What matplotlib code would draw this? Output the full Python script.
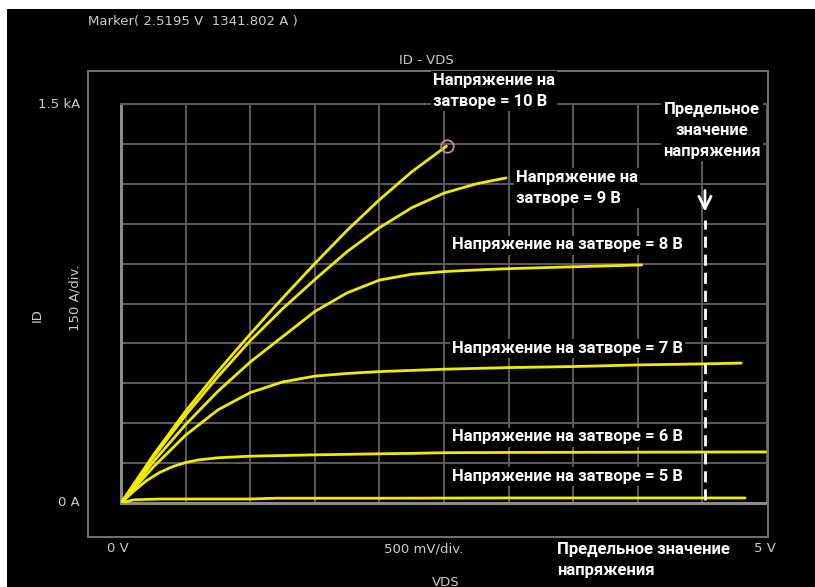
import matplotlib.pyplot as plt
from matplotlib.patches import Rectangle
from matplotlib.ticker import MultipleLocator

# I_D - V_DS output characteristics, one curve per gate voltage
vds_10 = [0, 0.25, 0.5, 0.75, 1.0, 1.25, 1.5, 1.75, 2.0, 2.25, 2.5195]
id_10 = [0, 180, 345, 495, 635, 770, 900, 1025, 1140, 1245, 1341.802]

vds_9 = [0, 0.25, 0.5, 0.75, 1.0, 1.25, 1.5, 1.75, 2.0, 2.25, 2.5, 2.75, 2.98]
id_9 = [0, 172, 330, 475, 610, 730, 840, 945, 1035, 1110, 1165, 1200, 1222]

vds_8 = [0, 0.25, 0.5, 0.75, 1.0, 1.25, 1.5, 1.75, 2.0, 2.25, 2.5, 2.75, 3.0, 3.5, 4.03]
id_8 = [0, 155, 295, 420, 530, 625, 720, 790, 838, 860, 870, 876, 881, 888, 895]

vds_7 = [0, 0.25, 0.5, 0.75, 1.0, 1.25, 1.5, 1.75, 2.0, 2.5, 3.0, 3.5, 4.0, 4.5, 4.8]
id_7 = [0, 135, 255, 350, 415, 455, 477, 487, 494, 503, 509, 513, 519, 523, 526]

vds_6 = [0, 0.1, 0.2, 0.3, 0.4, 0.5, 0.6, 0.75, 1.0, 1.5, 2.0, 2.3, 2.5, 3.0, 4.0, 4.99]
id_6 = [0, 45, 85, 115, 137, 152, 162, 170, 176, 181, 185, 187, 189, 190, 191, 192]

vds_5 = [0, 0.1, 0.3, 1.0, 1.2, 2.0, 3.0, 4.0, 4.83]
id_5 = [0, 12, 15, 15, 18, 18, 19, 19, 19]

curves = [(vds_10, id_10), (vds_9, id_9), (vds_8, id_8),
          (vds_7, id_7), (vds_6, id_6), (vds_5, id_5)]

marker_v, marker_i = 2.5195, 1341.802
v_limit = 4.52

W, H = 815, 587


def px(x, y):
    return x / W, 1 - y / H


fig = plt.figure(figsize=(W / 100, H / 100), dpi=100, facecolor='white')
fig.add_artist(Rectangle(px(7, 587), (W - 7) / W, (587 - 9) / H,
                         transform=fig.transFigure, facecolor='black',
                         edgecolor='none', zorder=0))
# outer instrument frame
fig.add_artist(Rectangle(px(88, 537), (768 - 88) / W, (537 - 71) / H,
                         transform=fig.transFigure, fill=False,
                         edgecolor='#6e6e6e', lw=1.5, zorder=1))

ax = fig.add_axes([121 / W, 1 - 503 / H, (767 - 121) / W, (503 - 104) / H])
ax.set_facecolor('black')
ax.set_xlim(0, 5)
ax.set_ylim(0, 1500)
ax.xaxis.set_major_locator(MultipleLocator(0.5))
ax.yaxis.set_major_locator(MultipleLocator(150))
ax.grid(True, color='#5c5c5c', lw=1.4)
ax.tick_params(length=0, labelbottom=False, labelleft=False)
for side in ['top', 'right']:
    ax.spines[side].set_color('#5c5c5c')
    ax.spines[side].set_linewidth(1.4)
for side in ['left', 'bottom']:
    ax.spines[side].set_color('#8c8c8c')
    ax.spines[side].set_linewidth(2.2)

for v, i in curves:
    ax.plot(v, i, color='#f0eb00', lw=2.0, solid_joinstyle='round',
            solid_capstyle='round', zorder=3)

ax.plot(marker_v, marker_i, 'o', ms=9, mfc='none', mec='#c98a9a', mew=1.3, zorder=4)

# voltage limit marker
ax.plot([v_limit, v_limit], [12, 1065], color='white', lw=2, ls=(0, (4, 2.5)), zorder=4)
ax.annotate('', xy=(v_limit, 1085), xytext=(v_limit, 1185),
            arrowprops=dict(arrowstyle='->', color='white', lw=2, mutation_scale=22),
            zorder=5)

# instrument labels
inst = dict(color='#cccccc', fontsize=9.5, family='DejaVu Sans')
fig.text(*px(88, 22), 'Marker( 2.5195 V  1341.802 A )', va='center', ha='left', **inst)
fig.text(*px(426, 60), 'ID - VDS', va='center', ha='center', **inst)
fig.text(*px(80, 104), '1.5 kA', va='center', ha='right', **inst)
fig.text(*px(80, 503), '0 A', va='center', ha='right', **inst)
fig.text(*px(37, 315), 'ID', va='center', ha='center', rotation=90, **inst)
fig.text(*px(75, 298), '150 A/div.', va='center', ha='center', rotation=90, **inst)
fig.text(*px(107, 549), '0 V', va='center', ha='left', **inst)
fig.text(*px(424, 549), '500 mV/div.', va='center', ha='center', **inst)
fig.text(*px(776, 549), '5 V', va='center', ha='right', **inst)
fig.text(*px(446, 582), 'VDS', va='center', ha='center', **inst)

# gate voltage captions
lab = dict(color='white', fontsize=12, fontweight='bold', family='Roboto',
           linespacing=1.5, zorder=6,
           bbox=dict(facecolor='black', edgecolor='none', pad=1.5))
fig.text(*px(433, 91), 'Напряжение на\nзатворе = 10 В', va='center', ha='left', **lab)
fig.text(*px(516, 188), 'Напряжение на\nзатворе = 9 В', va='center', ha='left', **lab)
fig.text(*px(452, 245), 'Напряжение на затворе = 8 В', va='center', ha='left', **lab)
fig.text(*px(452, 348), 'Напряжение на затворе = 7 В', va='center', ha='left', **lab)
fig.text(*px(452, 437), 'Напряжение на затворе = 6 В', va='center', ha='left', **lab)
fig.text(*px(452, 476), 'Напряжение на затворе = 5 В', va='center', ha='left', **lab)
fig.text(*px(712, 130), 'Предельное\nзначение\nнапряжения', va='center', ha='center', **lab)
fig.text(*px(557, 560), 'Предельное значение\nнапряжения', va='center', ha='left', **lab)

fig.savefig('out.png', dpi=100, facecolor='white')
